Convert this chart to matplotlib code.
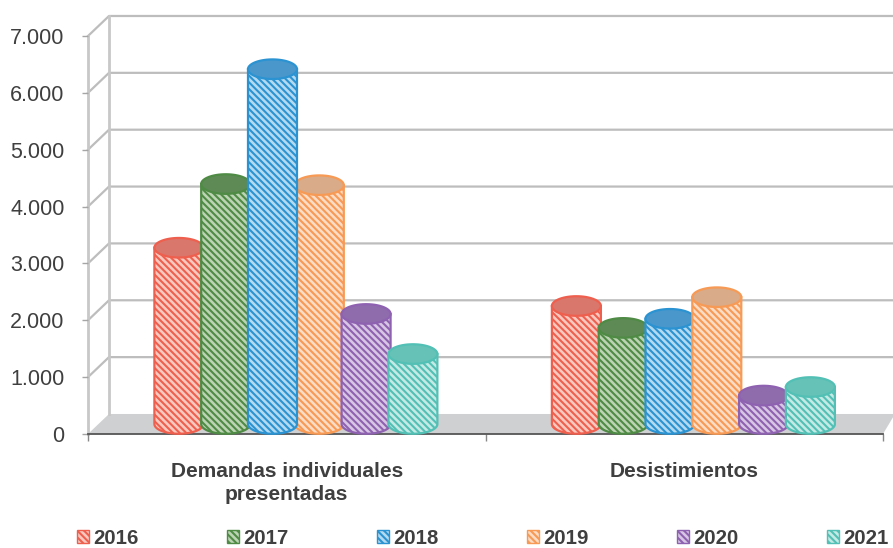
import numpy as np
import matplotlib
matplotlib.use("Agg")
import matplotlib.pyplot as plt
from matplotlib.patches import Polygon, Patch
from matplotlib.ticker import FuncFormatter

# values
categories = ["Demandas individuales\npresentadas", "Desistimientos"]
years = ["2016", "2017", "2018", "2019", "2020", "2021"]
demandas = [3100, 4220, 6240, 4200, 1935, 1230]
desistimientos = [2075, 1690, 1850, 2230, 500, 650]
yticks = [0, 1000, 2000, 3000, 4000, 5000, 6000, 7000]

edge_colors = ["#ee5f4e", "#4f8b45", "#2b93d1", "#f79a55", "#8e62b0", "#52c0b5"]
body_colors = ["#f9c8bf", "#bcd3b4", "#b3daf1", "#fcdcc4", "#d8c6e5", "#c3eae5"]
top_colors = ["#d9776d", "#5d8a55", "#4a97cb", "#d9ab88", "#8f6cac", "#66c2b6"]

W, H = 893, 548
DPI = 100
TXT = "#3f3f3f"
plt.rcParams["font.family"] = ["Liberation Sans", "DejaVu Sans"]
plt.rcParams["hatch.linewidth"] = 1.5

fig = plt.figure(figsize=(W / DPI, H / DPI), dpi=DPI)
ax = fig.add_axes([88 / W, 1 - 434 / H, 795 / W, 398 / H])
ax.set_xlim(-0.5, 1.5)
ax.set_ylim(0, 7000)
for s in ax.spines.values():
    s.set_visible(False)
ax.patch.set_visible(False)

# depth of the 3d box, in data units
dx = 21 / 397.5
dy = 352

# floor and walls
ax.add_patch(Polygon([(-0.5, 0), (-0.5 + dx, dy), (1.53, dy), (1.5, 0)],
                     closed=True, fc="#cfd0d1", ec="none", clip_on=False, zorder=1))
for v in yticks[1:]:
    ax.plot([-0.5, -0.5 + dx, 1.53], [v, v + dy, v + dy], color="#bdbdbd", lw=1.6,
            clip_on=False, zorder=1)
ax.plot([-0.5 + dx, -0.5 + dx], [dy, 7000 + dy], color="#c8c8c8", lw=2, clip_on=False, zorder=1)
ax.plot([-0.5, -0.5], [0, 7000], color="#c8c8c8", lw=2, clip_on=False, zorder=1)
ax.plot([-0.5, 1.5], [0, 0], color="#555555", lw=1.3, clip_on=False, zorder=2)

ax.set_yticks(yticks)
ax.yaxis.set_major_formatter(FuncFormatter(lambda v, p: f"{int(v):,}".replace(",", ".")))
ax.tick_params(axis="y", length=4, width=1, color="#a5a5a5", labelsize=15.5,
               labelcolor=TXT, pad=13)
ax.set_xticks([0, 1])
ax.set_xticklabels(categories, fontsize=15, fontweight="bold", color=TXT, linespacing=1.3)
ax.tick_params(axis="x", length=0, pad=20)
ax.set_xticks([-0.5, 0.5, 1.5], minor=True)
ax.tick_params(axis="x", which="minor", length=5, width=1, color="#888888")

# cylinders
step = 46.8 / 397.5
rx = 24.5 / 397.5
ry = 172
t = np.linspace(0, np.pi, 60)
ring = np.linspace(0, 2 * np.pi, 120)


def cylinder(xc, value, i, z):
    base = dy / 2
    top = base + value
    low = base - ry * np.sin(t)
    body = list(zip(xc + rx * np.cos(t), low)) + [(xc - rx, top), (xc + rx, top)]
    ax.add_patch(Polygon(body, closed=True, fc=body_colors[i], ec=edge_colors[i], lw=1.6,
                         hatch="\\\\\\\\\\", clip_on=False, zorder=z))
    cap = list(zip(xc + rx * np.cos(ring), top + ry * np.sin(ring)))
    ax.add_patch(Polygon(cap, closed=True, fc=top_colors[i], ec=edge_colors[i], lw=1.6,
                         clip_on=False, zorder=z + 0.1))


for c, vals in enumerate([demandas, desistimientos]):
    for i, v in enumerate(vals):
        z = 3 + i
        if c == 0 and i == 2:
            z = 3 + 3.5  # la barra 2018 queda por delante de 2019
        cylinder(c + 0.023 + (i - 2.5) * step, v, i, z)

# legend
handles = [Patch(fc=body_colors[i], ec=edge_colors[i], lw=1, hatch="\\\\\\\\\\", label=years[i])
           for i in range(6)]
fig.legend(handles=handles, ncol=6, frameon=False, loc="lower left",
           bbox_to_anchor=(77 / W, 0 / H), prop={"size": 14.7, "weight": "bold"},
           labelcolor=TXT, handlelength=0.6, handleheight=0.6, handletextpad=0.2,
           columnspacing=4.33, borderpad=0, borderaxespad=0)

fig.savefig("out.png", dpi=DPI)
